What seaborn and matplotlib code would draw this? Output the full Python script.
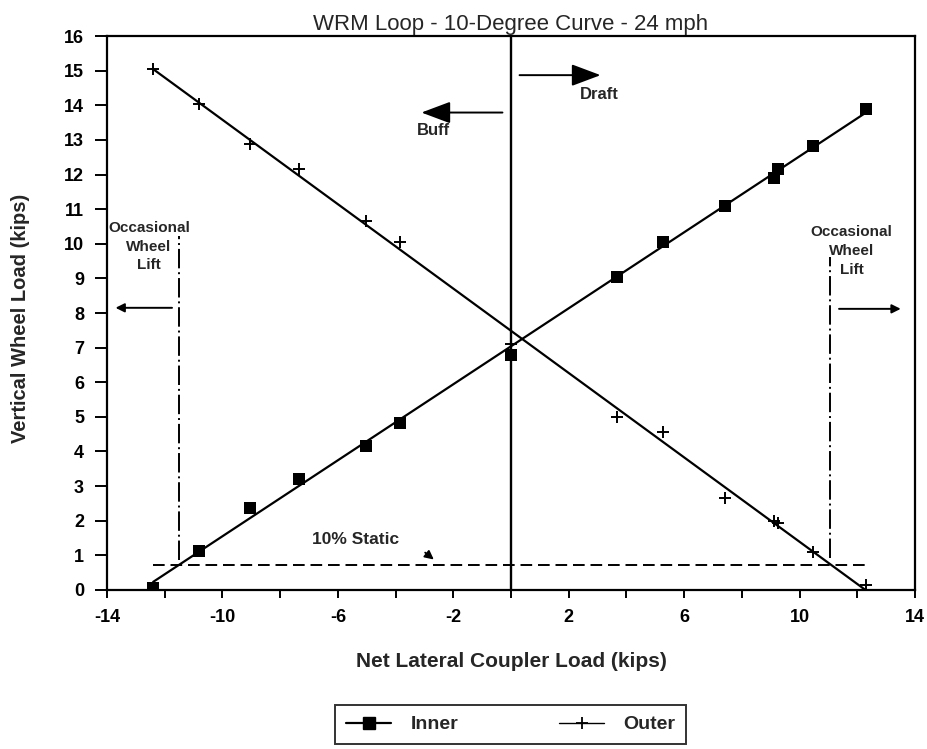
import matplotlib
matplotlib.use("Agg")
import matplotlib.pyplot as plt
from matplotlib.lines import Line2D
import numpy as np
import pandas as pd
import seaborn as sns

# ---- data ----
coupler_load = [-12.4, -10.8, -9.05, -7.35, -5.03, -3.84, 0.0, 3.66, 5.27, 7.4, 9.1, 9.25, 10.47, 12.31]
inner_load = [0.06, 1.13, 2.37, 3.22, 4.15, 4.82, 6.8, 9.03, 10.04, 11.08, 11.9, 12.15, 12.83, 13.9]
outer_load = [15.05, 14.03, 12.88, 12.17, 10.65, 10.06, 7.1, 5.0, 4.56, 2.67, 1.98, 1.93, 1.11, 0.14]
static_10pct = 0.72
wheel_lift_left = -11.5
wheel_lift_right = 11.07
x_ticks = [-14, -12, -10, -8, -6, -4, -2, 0, 2, 4, 6, 8, 10, 12, 14]
x_labels = ["-14", "", "-10", "", "-6", "", "-2", "", "2", "", "6", "", "10", "", "14"]
y_ticks = list(range(0, 17))

df = pd.DataFrame({"x": coupler_load, "inner": inner_load, "outer": outer_load})

sns.set_theme(style="ticks")
plt.rcParams["font.family"] = ["Liberation Sans", "DejaVu Sans"]
plt.rcParams["font.weight"] = "bold"

fig = plt.figure(figsize=(9.27, 7.49), dpi=100)
ax = fig.add_axes([0.1154, 0.2123, 0.8717, 0.7396])

# regression lines
sns.regplot(data=df, x="x", y="inner", ax=ax, scatter=False, ci=None, color="black",
            line_kws={"lw": 1.6})
sns.regplot(data=df, x="x", y="outer", ax=ax, scatter=False, ci=None, color="black",
            line_kws={"lw": 1.6})
# points
sns.scatterplot(data=df, x="x", y="inner", ax=ax, marker="s", s=85, color="black",
                edgecolor="black", linewidth=0, zorder=5)
sns.scatterplot(data=df, x="x", y="outer", ax=ax, marker="+", s=75, color="black",
                linewidth=1.4, zorder=5)

# zero line
ax.axvline(0, color="black", lw=1.7, zorder=3)

# 10% static
ax.plot([coupler_load[0], coupler_load[-1]], [static_10pct, static_10pct], color="black",
        lw=1.4, ls=(0, (6, 3)))
ax.text(-5.4, 1.45, "10% Static", ha="center", va="center", fontsize=12.5, fontweight="bold")
ax.annotate("", xy=(-2.6, 0.83), xytext=(-3.05, 1.13),
            arrowprops=dict(arrowstyle="-|>", color="black", lw=1.3, mutation_scale=13))

# occasional wheel lift
ax.plot([wheel_lift_left, wheel_lift_left], [0.87, 10.22], color="black", lw=1.4,
        ls=(0, (10, 2, 1, 2)))
ax.plot([wheel_lift_right, wheel_lift_right], [0.93, 9.63], color="black", lw=1.4,
        ls=(0, (10, 2, 1, 2)))
ax.text(-12.55, 9.92, "Occasional\nWheel\nLift", ha="center", va="center", fontsize=11,
        fontweight="bold", linespacing=1.45)
ax.text(11.8, 9.78, "Occasional\nWheel\nLift", ha="center", va="center", fontsize=11,
        fontweight="bold", linespacing=1.45)
ax.annotate("", xy=(-13.8, 8.15), xytext=(-11.65, 8.15),
            arrowprops=dict(arrowstyle="-|>", color="black", lw=1.4, mutation_scale=13))
ax.annotate("", xy=(13.6, 8.12), xytext=(11.27, 8.12),
            arrowprops=dict(arrowstyle="-|>", color="black", lw=1.4, mutation_scale=13))

# buff / draft
ax.annotate("", xy=(-3.2, 13.79), xytext=(-0.2, 13.79),
            arrowprops=dict(arrowstyle="-|>,head_length=1.2,head_width=0.45", color="black",
                            lw=1.4, mutation_scale=15))
ax.text(-2.7, 13.26, "Buff", ha="center", va="center", fontsize=12, fontweight="bold")
ax.annotate("", xy=(3.2, 14.87), xytext=(0.2, 14.87),
            arrowprops=dict(arrowstyle="-|>,head_length=1.2,head_width=0.45", color="black",
                            lw=1.4, mutation_scale=15))
ax.text(3.05, 14.32, "Draft", ha="center", va="center", fontsize=12, fontweight="bold")

# axes
ax.set_xlim(-14, 14)
ax.set_ylim(0, 16)
ax.set_xticks(x_ticks)
ax.set_xticklabels(x_labels)
ax.set_yticks(y_ticks)
ax.tick_params(axis="both", direction="out", width=1.4, colors="black", labelsize=13)
ax.tick_params(axis="x", length=6, pad=8)
ax.tick_params(axis="y", length=8.5, pad=8)
for lab in ax.get_xticklabels() + ax.get_yticklabels():
    lab.set_fontweight("bold")
for sp in ax.spines.values():
    sp.set_visible(True)
    sp.set_color("black")
    sp.set_linewidth(1.6)
ax.set_xlabel("Net Lateral Coupler Load (kips)", fontsize=15, fontweight="bold",
              va="center", ha="center")
ax.xaxis.set_label_coords(0.5, (590 - 662) / 554)
ax.set_ylabel("Vertical Wheel Load (kips)", fontsize=14.5, fontweight="bold",
              va="center", ha="center")
ax.yaxis.set_label_coords((21 - 107) / 808, 0.49)
ax.set_title("WRM Loop - 10-Degree Curve - 24 mph", fontsize=16, fontweight="normal", pad=4)

handles = [Line2D([], [], color="black", lw=1.6, marker="s", markersize=8),
           Line2D([], [], color="black", lw=1.0, marker="+", markersize=8, markeredgewidth=1.3)]
leg = fig.legend(handles, ["Inner", "Outer"], loc="upper center", bbox_to_anchor=(0.551, 1 - 705 / 749),
                 ncol=2, frameon=True, fancybox=False, edgecolor="black", fontsize=14,
                 handlelength=2.3, columnspacing=5.2, borderpad=0.55, handletextpad=1.0,
                 borderaxespad=0)
leg.get_frame().set_linewidth(1.4)
for t in leg.get_texts():
    t.set_fontweight("bold")

fig.savefig("out.png", dpi=100, facecolor="white")
